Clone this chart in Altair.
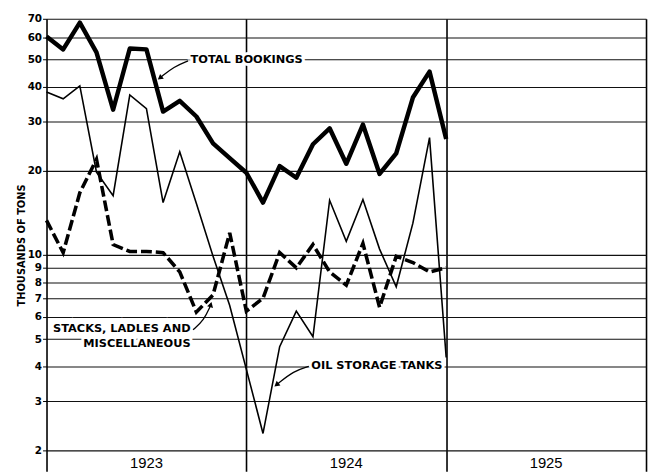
import altair as alt
import pandas as pd

# ---- data (month index 0 = Jan 1923) ----
months = list(range(25))
total_bookings = [60.5, 54.4, 67.8, 53.1, 33.1, 54.8, 54.4, 32.6, 35.6, 31.3, 25.1, 22.2,
                  19.7, 15.4, 20.8, 18.9, 24.9, 28.4, 21.2, 29.3, 19.5, 23.1, 36.6, 45.3, 26.0]
oil_tanks = [38.3, 36.2, 40.3, 19.8, 16.3, 37.4, 33.4, 15.4, 23.4, 15.3, 9.9, 6.6,
             3.9, 2.3, 4.7, 6.3, 5.1, 15.7, 11.2, 15.8, 10.5, 7.7, 13.0, 26.3, 4.3]
stacks = [13.3, 10.2, 16.7, 22.0, 10.9, 10.3, 10.3, 10.2, 8.7, 6.25, 7.2, 12.0,
          6.3, 7.0, 10.2, 9.0, 10.9, 8.7, 7.8, 11.0, 6.5, 9.9, 9.4, 8.7, 9.0]

y_ticks = [2, 3, 4, 5, 6, 7, 8, 9, 10, 20, 30, 40, 50, 60, 70]
years = ["1923", "1924", "1925"]
year_mid = [6, 18, 30]

# annotation labels (text, month-position, value, align)
label_text = ["TOTAL BOOKINGS", "STACKS, LADLES AND", "MISCELLANEOUS", "OIL STORAGE TANKS"]
label_x = [8.65, 8.65, 8.65, 15.9]
label_v = [50.0, 5.42, 4.8, 4.0]
label_align = ["left", "right", "right", "left"]

# annotation arrows: (arrow id, order, month-position, value)
arrow_id = ["a", "a", "a", "b", "b", "b", "c", "c", "c"]
arrow_ord = [0, 1, 2, 0, 1, 2, 0, 1, 2]
arrow_x = [8.5, 7.65, 6.85, 8.8, 9.45, 9.85, 15.75, 14.85, 13.85]
arrow_v = [49.5, 47.2, 43.2, 5.4, 5.85, 6.6, 4.0, 3.85, 3.45]
head_x = [6.85, 9.85, 13.85]
head_v = [43.2, 6.6, 3.45]
head_ang = [232, 15, 232]

df = pd.DataFrame({"m": months, "total": total_bookings, "oil": oil_tanks, "stacks": stacks})
ylab = pd.DataFrame({"t": label_text, "x": label_x, "v": label_v, "al": label_align})
arr = pd.DataFrame({"id": arrow_id, "o": arrow_ord, "x": arrow_x, "v": arrow_v})
heads = pd.DataFrame({"x": head_x, "v": head_v, "ang": head_ang})
yrs = pd.DataFrame({"yr": years, "x": year_mid})

xs = alt.Scale(domain=[0, 36], nice=False, zero=False)
ys = alt.Scale(type="log", domain=[1.686, 70], nice=False)

x_axis = alt.Axis(values=[12, 24, 36], grid=True, gridColor="black", gridWidth=1.6,
                  labels=False, ticks=False, domain=False, title=None)
y_axis = alt.Axis(values=y_ticks, format="d", grid=True, gridColor="#111", gridWidth=1.1,
                  domain=True, domainColor="black", domainWidth=1.6,
                  ticks=True, tickColor="black", tickSize=4, labelPadding=1,
                  labelFont="DejaVu Sans", labelFontWeight="bold", labelFontSize=10.5,
                  labelColor="black", labelOverlap=False, labelFlush=False,
                  title="THOUSANDS OF TONS", titleFont="DejaVu Sans", titleFontWeight="bold",
                  titleFontSize=10, titleColor="black", titlePadding=1)

base = alt.Chart(df)

axes = base.mark_line(opacity=0).encode(
    x=alt.X("m:Q", scale=xs, axis=x_axis),
    y=alt.Y("total:Q", scale=ys, axis=y_axis),
)

line_total = base.mark_line(color="black", strokeWidth=4.5, strokeJoin="round").encode(
    x=alt.X("m:Q", scale=xs), y=alt.Y("total:Q", scale=ys))
line_oil = base.mark_line(color="black", strokeWidth=1.6, strokeJoin="miter").encode(
    x=alt.X("m:Q", scale=xs), y=alt.Y("oil:Q", scale=ys))
line_stacks = base.mark_line(color="black", strokeWidth=3.6, strokeDash=[11, 4]).encode(
    x=alt.X("m:Q", scale=xs), y=alt.Y("stacks:Q", scale=ys))

def text_layer(align, halo):
    d = ylab[ylab["al"] == align]
    kw = dict(font="DejaVu Sans", fontWeight="bold", fontSize=11.5, align=align,
              baseline="middle")
    if halo:
        m = alt.Chart(d).mark_text(color="white", stroke="white", strokeWidth=6, **kw)
    else:
        m = alt.Chart(d).mark_text(color="black", **kw)
    return m.encode(x=alt.X("x:Q", scale=xs), y=alt.Y("v:Q", scale=ys), text="t:N")

arrows = alt.Chart(arr).mark_line(color="black", strokeWidth=1.3, interpolate="basis").encode(
    x=alt.X("x:Q", scale=xs), y=alt.Y("v:Q", scale=ys), detail="id:N", order="o:Q")
arrowheads = alt.Chart(heads).mark_point(shape="triangle", filled=True, color="black",
                                         size=38, opacity=1).encode(
    x=alt.X("x:Q", scale=xs), y=alt.Y("v:Q", scale=ys), angle=alt.Angle("ang:Q", scale=None))

year_text = alt.Chart(yrs).mark_text(font="Liberation Sans", fontSize=15, color="black",
                                     baseline="middle", align="center").encode(
    x=alt.X("x:Q", scale=xs), y=alt.value(450), text="yr:N")

chart = alt.layer(
    axes, text_layer("left", True), text_layer("right", True),
    line_oil, line_stacks, line_total,
    arrows, arrowheads,
    text_layer("left", False), text_layer("right", False),
    year_text,
).properties(
    width=607, height=458,
    autosize=alt.AutoSizeParams(type="none"),
    padding={"left": 39, "top": 8, "right": 2, "bottom": 2},
    background="white",
).configure_view(strokeOpacity=0)

chart.save("out.html", embed_options={"renderer": "svg", "actions": False})
